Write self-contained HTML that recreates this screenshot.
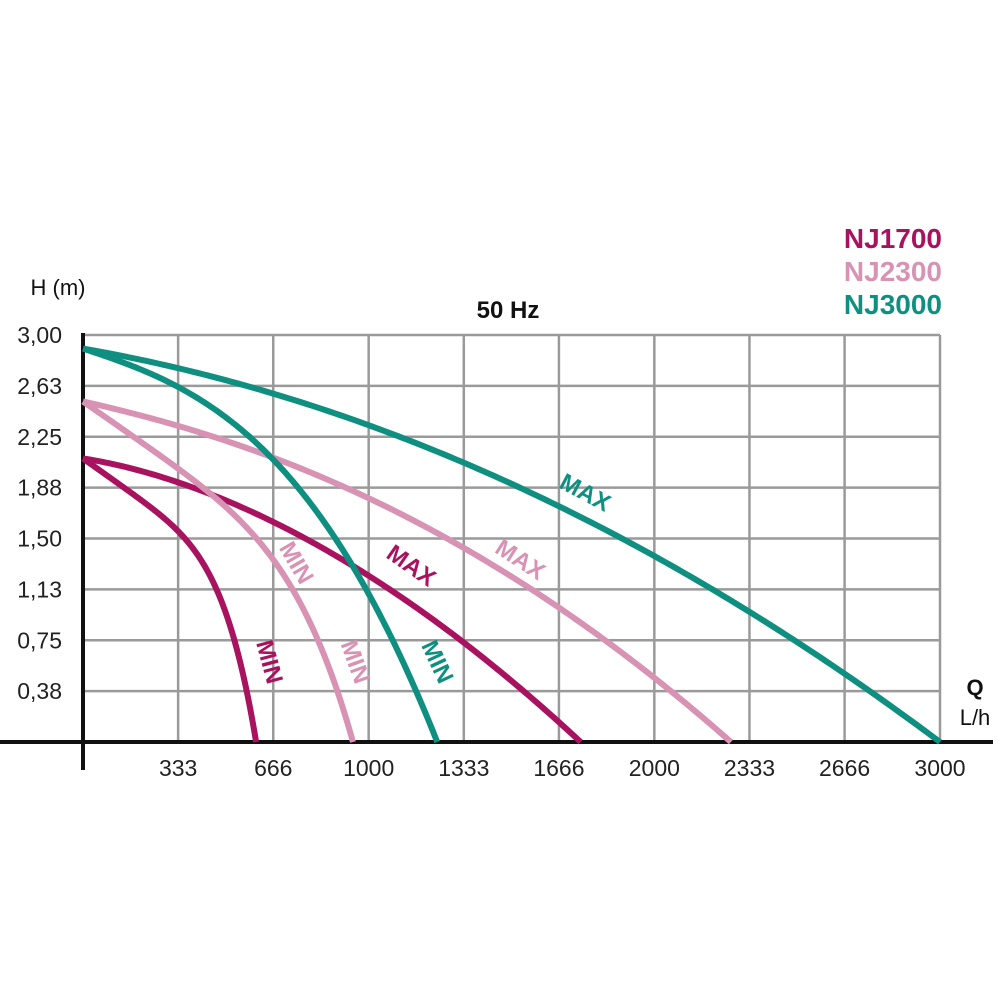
<!DOCTYPE html>
<html><head><meta charset="utf-8"><style>
body{margin:0;background:#fff}
svg{display:block;font-family:"Liberation Sans",sans-serif}
</style></head><body>
<svg id="c" width="1000" height="1000" viewBox="0 0 1000 1000">
<g id="grid"></g>
<g id="axes"></g>
<g id="series"></g>
<g id="labels"></g>
</svg>
<script>
const xTicks=[333,666,1000,1333,1666,2000,2333,2666,3000];
const yTicks=[0.375,0.75,1.125,1.5,1.875,2.25,2.625,3.0];
const yTickLabels=["0,38","0,75","1,13","1,50","1,88","2,25","2,63","3,00"];
const q3000max=[0,333,666,1000,1333,1666,2000,2333,2666,3000];
const h3000max=[2.90,2.76,2.58,2.34,2.06,1.69,1.39,0.97,0.52,0];
const q3000min=[0,333,666,924,1000,1155,1240];
const h3000min=[2.90,2.67,2.02,1.36,1.10,0.51,0];
const q2300max=[0,333,666,1000,1333,1666,2000,2268];
const h2300max=[2.51,2.35,2.09,1.78,1.44,0.99,0.48,0];
const q2300min=[0,270,333,666,830,924,945];
const h2300min=[2.51,2.15,2.03,1.28,0.75,0.21,0];
const q1700max=[0,333,666,1000,1320,1600,1742];
const h1700max=[2.09,1.92,1.61,1.22,0.80,0.20,0];
const q1700min=[0,270,333,504,574,606];
const h1700min=[2.09,1.67,1.58,0.86,0.46,0];
const NS="http://www.w3.org/2000/svg";
const X=q=>83+q*(940-83)/3000;
const Y=h=>742-h*(742-335)/3;
function mk(p,tag,at,txt){const e=document.createElementNS(NS,tag);for(const k in at)e.setAttribute(k,at[k]);if(txt!==undefined)e.textContent=txt;p.appendChild(e);return e;}
const grid=document.getElementById('grid'),axes=document.getElementById('axes'),ser=document.getElementById('series'),lab=document.getElementById('labels');
xTicks.forEach(q=>{const l=mk(grid,'line',{x1:X(q),x2:X(q),y1:335,y2:742,stroke:'#9a9a9a','stroke-width':2.5});


const t=mk(lab,'text',{x:X(q),y:776,'font-size':23,'text-anchor':'middle',fill:'#222'},String(q));

});
yTicks.forEach((h,i)=>{const l=mk(grid,'line',{x1:83,x2:940,y1:Y(h),y2:Y(h),stroke:'#9a9a9a','stroke-width':2.5});


const t=mk(lab,'text',{x:62,y:Y(h)+8,'font-size':23,'text-anchor':'end',fill:'#222'},yTickLabels[i]);

});
let a=mk(axes,'line',{x1:0,x2:993,y1:742,y2:742,stroke:'#111','stroke-width':4});


a=mk(axes,'line',{x1:83,x2:83,y1:333,y2:770,stroke:'#111','stroke-width':4});


function path(qs,hs){const H0=hs[0],Qm=qs[qs.length-1];
let best=[1e9,0,2];
for(let n=1;n<=8.001;n+=0.02){let sff=0,sfr=0;const pts=[];
for(let i=1;i<qs.length-1;i++){const u=qs[i]/Qm,h=hs[i]/H0,f=u-Math.pow(u,n),r=1-Math.pow(u,n)-h;sff+=f*f;sfr+=f*r;pts.push([u,h]);}
let al=sff?sfr/sff:0;al=Math.max(0,Math.min(1,al));
let e=0;pts.forEach(([u,h])=>{const m=1-al*u-(1-al)*Math.pow(u,n);e+=(m-h)*(m-h);});
if(e<best[0])best=[e,al,n];}
const al=best[1],n=best[2];let d='';
for(let i=0;i<=150;i++){const u=i/150,h=H0*(1-al*u-(1-al)*Math.pow(u,n));d+=(i?' L':'M')+X(u*Qm).toFixed(2)+','+Y(Math.max(0,h)).toFixed(2);}return d;}
const T='#0e8f80',M='#a8125f',P='#d893b4';
[[q3000max,h3000max,T,'nj3000-max-curve'],[q2300max,h2300max,P,'nj2300-max-curve'],[q1700max,h1700max,M,'nj1700-max-curve'],
 [q3000min,h3000min,T,'nj3000-min-curve'],[q2300min,h2300min,P,'nj2300-min-curve'],[q1700min,h1700min,M,'nj1700-min-curve']].forEach(s=>{
const e=mk(ser,'path',{d:path(s[0],s[1]),fill:'none',stroke:s[2],'stroke-width':6});

});
function rl(x,y,ang,txt,col,name){const e=mk(lab,'text',{x:x,y:y,'font-size':24,'font-weight':'bold',fill:col,'text-anchor':'middle','dominant-baseline':'central',transform:`rotate(${ang} ${x} ${y})`},txt);

}
rl(585,493,28,'MAX',T,'nj3000-max-label');
rl(520,560,33,'MAX',P,'nj2300-max-label');
rl(411,566,35,'MAX',M,'nj1700-max-label');
rl(437,662,65,'MIN',T,'nj3000-min-label');
rl(355,662,70,'MIN',P,'nj2300-min-label');
rl(269,662,75,'MIN',M,'nj1700-min-label');
rl(296,563,60,'MIN',P,'nj2300-min-label-2');
function tx(x,y,s,txt,col,w,anchor,name){const e=mk(lab,'text',{x:x,y:y,'font-size':s,fill:col,'font-weight':w,'text-anchor':anchor},txt);

}
tx(942,248,28,'NJ1700',M,'bold','end','legend-nj1700');
tx(942,281,28,'NJ2300',P,'bold','end','legend-nj2300');
tx(942,314,28,'NJ3000',T,'bold','end','legend-nj3000');
tx(508,318,24,'50 Hz','#111','bold','middle','chart-title');
tx(58,295,22,'H (m)','#111','normal','middle','y-axis-title');
tx(975,695,22,'Q','#111','bold','middle','x-axis-title');
tx(975,725,22,'L/h','#111','normal','middle','x-axis-unit');
</script>
</body></html>
